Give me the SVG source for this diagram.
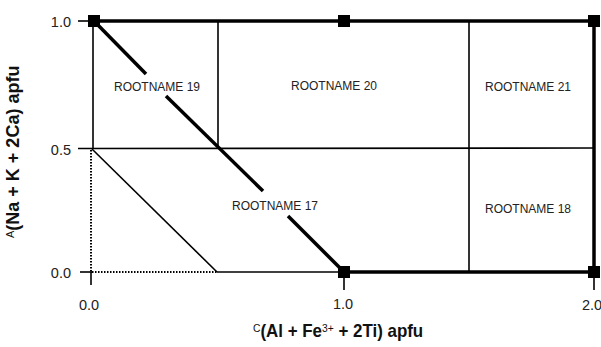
<svg xmlns="http://www.w3.org/2000/svg" width="601" height="347" viewBox="0 0 601 347">
<style>
.thin{stroke:#000;stroke-width:1.6;fill:none}
.thick{stroke:#000;stroke-width:3.5;fill:none}
.dot{stroke:#000;stroke-width:2;stroke-dasharray:1.5 1.5;fill:none}
.sq{fill:#000}
.lbl{font-family:"Liberation Sans",Arial,sans-serif;font-size:12px;fill:#222;text-anchor:middle}
.tick{font-family:"Liberation Sans",Arial,sans-serif;font-size:14.5px;fill:#222}
.ax{font-family:"Liberation Sans",Arial,sans-serif;font-size:18px;font-weight:bold;fill:#111}
.sup{font-size:11px;font-weight:normal}
</style>
<rect width="601" height="347" fill="#fff"/>
<g id="connectors">
  <line class="thin" x1="93" y1="21" x2="93" y2="149"/>
  <line class="thin" x1="218" y1="21" x2="218" y2="149"/>
  <line class="thin" x1="469" y1="21" x2="469" y2="272"/>
  <line class="thin" x1="78" y1="148.5" x2="594" y2="148"/>
  <line class="thin" x1="92" y1="149" x2="217" y2="272"/>
  <line class="thin" x1="217" y1="272" x2="344" y2="272"/>
  <line class="thin" x1="78" y1="21" x2="93" y2="21"/>
  <line class="thin" x1="80" y1="272" x2="92" y2="272"/>
  <line class="thin" x1="91" y1="272" x2="91" y2="285"/>
  <line class="thin" x1="344" y1="272" x2="344" y2="290"/>
  <line class="thin" x1="594" y1="272" x2="594" y2="290"/>
  <line class="dot" x1="91" y1="150" x2="91" y2="272"/>
  <line class="dot" x1="92" y1="272" x2="217" y2="272"/>
  <line class="thick" x1="94" y1="21" x2="594" y2="21"/>
  <line class="thick" x1="594" y1="21" x2="594" y2="272"/>
  <line class="thick" x1="344" y1="272" x2="594" y2="272"/>
  <line class="thick" x1="94" y1="21" x2="146" y2="74"/>
  <line class="thick" x1="166" y1="96" x2="263" y2="191"/>
  <line class="thick" x1="288" y1="216" x2="344" y2="272"/>
</g>
<g id="markers">
  <rect class="sq" x="88" y="15" width="12" height="12"/>
  <rect class="sq" x="338" y="15" width="12" height="12"/>
  <rect class="sq" x="588" y="15" width="12" height="12"/>
  <rect class="sq" x="338" y="266" width="12" height="12"/>
  <rect class="sq" x="588" y="266" width="12" height="12"/>
</g>
<g id="rootname19"><text class="lbl" x="157" y="91">ROOTNAME 19</text></g>
<g id="rootname20"><text class="lbl" x="334" y="90">ROOTNAME 20</text></g>
<g id="rootname21"><text class="lbl" x="528" y="91">ROOTNAME 21</text></g>
<g id="rootname17"><text class="lbl" x="275" y="210">ROOTNAME 17</text></g>
<g id="rootname18"><text class="lbl" x="528" y="213">ROOTNAME 18</text></g>
<g id="axes">
  <text class="tick" x="71" y="27" text-anchor="end">1.0</text>
  <text class="tick" x="71" y="155" text-anchor="end">0.5</text>
  <text class="tick" x="71" y="278" text-anchor="end">0.0</text>
  <text class="tick" x="89" y="310" text-anchor="middle">0.0</text>
  <text class="tick" x="343" y="309" text-anchor="middle">1.0</text>
  <text class="tick" x="592" y="310" text-anchor="middle">2.0</text>
  <g transform="translate(253,337) scale(0.94,1)">
    <text class="ax" x="0" y="0"><tspan class="sup" dy="-5">C</tspan><tspan dy="5">(Al + Fe</tspan><tspan class="sup" dy="-5">3+</tspan><tspan dy="5"> + 2Ti) apfu</tspan></text>
  </g>
  <g transform="translate(19,238) rotate(-90)">
    <text class="ax" x="0" y="0"><tspan class="sup" dy="-5">A</tspan><tspan dy="5">(Na + K + 2Ca) apfu</tspan></text>
  </g>
</g>
</svg>
